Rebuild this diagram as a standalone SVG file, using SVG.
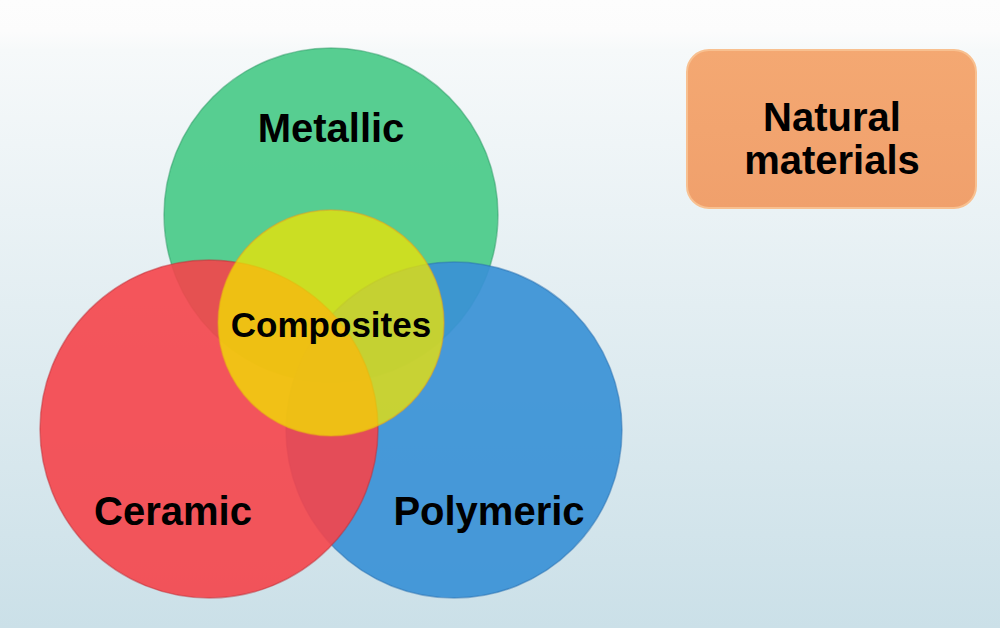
<svg xmlns="http://www.w3.org/2000/svg" width="1000" height="628" viewBox="0 0 1000 628">
<defs>
<linearGradient id="bg" x1="0" y1="0" x2="0" y2="1">
<stop offset="0" stop-color="#fdfdfd"/>
<stop offset="0.05" stop-color="#fcfcfc"/>
<stop offset="0.08" stop-color="#f6f9fa"/>
<stop offset="1" stop-color="#cbe0e8"/>
</linearGradient>
<linearGradient id="box" x1="0" y1="0" x2="0" y2="1">
<stop offset="0" stop-color="#f4a872"/>
<stop offset="1" stop-color="#f0a06c"/>
</linearGradient>
</defs>
<style>
.c{stroke-width:1.5;stroke-opacity:0.5}
.t{font-family:"Liberation Sans",Arial,sans-serif;font-weight:bold;fill:#000;text-anchor:middle}
</style>
<rect width="1000" height="628" fill="url(#bg)"/>
<g id="metallic">
<circle class="c" cx="331" cy="215" r="167" fill="#4ecb8b" fill-opacity="0.95" stroke="#2e9a66"/>
<text class="t" x="331" y="142" font-size="40">Metallic</text>
</g>
<g id="polymeric">
<circle class="c" cx="454" cy="430" r="168" fill="#3a91d6" fill-opacity="0.92" stroke="#2a70b0"/>
</g>
<g id="ceramic">
<circle class="c" cx="209" cy="429" r="169" fill="#f5444a" fill-opacity="0.9" stroke="#c03038"/>
</g>
<g id="composites">
<circle class="c" cx="331" cy="323" r="113" fill="#f0e400" fill-opacity="0.76" stroke="#e8a020"/>
</g>
<text class="t" x="173" y="525" font-size="40">Ceramic</text>
<text class="t" x="489" y="525" font-size="40">Polymeric</text>
<text class="t" x="331" y="337" font-size="35">Composites</text>
<g id="natural">
<rect x="687" y="50" width="289" height="158" rx="22" fill="url(#box)" stroke="#f8c090" stroke-width="2"/>
<text class="t" x="832" y="131" font-size="40">Natural</text>
<text class="t" x="832" y="174" font-size="40">materials</text>
</g>
</svg>
